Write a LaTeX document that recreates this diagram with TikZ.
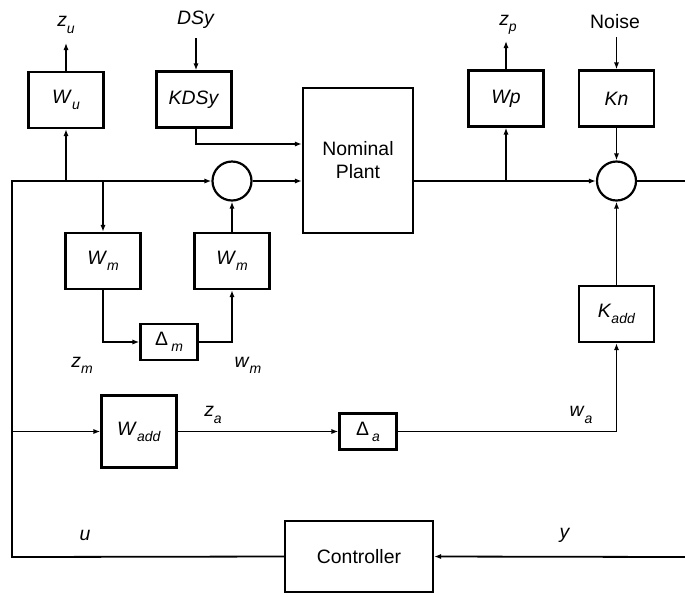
\documentclass[tikz,border=0pt]{standalone}
\usepackage{fontspec}
\setmainfont{Liberation Sans}
\usepackage{tikz}
\usetikzlibrary{positioning,arrows.meta,calc}

\newcommand{\vsub}[2]{\textit{#1}\raisebox{-0.6ex}{\fontsize{7}{8}\selectfont\textit{#2}}}

\begin{document}
\begin{tikzpicture}[
  x=0.5pt, y=-0.5pt,
  font=\fontsize{9.7}{11.5}\selectfont,
  blk/.style={draw, line width=1.1pt, minimum width=37.5pt, minimum height=28pt,
              align=center, inner sep=1pt},
  dblk/.style={draw, line width=1.1pt, minimum width=28.5pt, minimum height=18pt,
              inner sep=1pt},
  sumnode/.style={draw, circle, line width=1.1pt, minimum size=19.5pt, inner sep=0pt},
  arr/.style={-{Latex[length=3.5pt, width=2.6pt]}, line width=0.9pt},
  wire/.style={line width=0.9pt},
  sig/.style={inner sep=1pt}
]
\useasboundingbox (0,0) rectangle (685,596);

% ---- upper row ----
\node[blk] (wu)   at (66,100)    {\vsub{W}{u}};
\node[blk] (kdsy) at (194,99.5)  {\textit{KDSy}};
\node[draw, line width=1.1pt, minimum width=55pt, minimum height=72.5pt,
      align=center] (plant) at (358,160.5) {Nominal\\ Plant};
\node[blk] (wp)   at (506,98.5)  {\textit{Wp}};
\node[blk] (kn)   at (616.5,98.5){\textit{Kn}};

% ---- summing junctions ----
\node[sumnode] (sum1) at (232,181) {};
\node[sumnode] (sum2) at (616.5,181) {};

% ---- multiplicative uncertainty ----
\node[blk] (wm1) at (103,261)  {\vsub{W}{m}};
\node[blk] (wm2) at (232,261)  {\vsub{W}{m}};
\node[dblk] (dm) at (169,342)  {Δ\,\vsub{}{m}};

% ---- additive uncertainty ----
\node[blk] (kadd) at (616.5,314) {\vsub{K}{add}};
\node[blk, minimum height=36pt] (wadd) at (139,431.5) {\vsub{W}{add}};
\node[dblk] (da) at (368,431.5) {Δ\,\vsub{}{a}};

% ---- controller ----
\node[draw, line width=1.1pt, minimum width=74pt, minimum height=35.5pt] (ctrl)
  at (359,556.5) {Controller};

% ---- signal labels ----
\node[sig] (lzu)    at (66,25)   {\vsub{z}{u}};
\node[sig] (ldsy)   at (196,20)  {\textit{DSy}};
\node[sig] (lzp)    at (508,25)  {\vsub{z}{p}};
\node[sig] (lnoise) at (615,22)  {Noise};
\node[sig] (lzm)    at (82,365)  {\vsub{z}{m}};
\node[sig] (lwm)    at (248,365) {\vsub{w}{m}};
\node[sig] (lza)    at (213,415) {\vsub{z}{a}};
\node[sig] (lwa)    at (581,415) {\vsub{w}{a}};
\node[sig] (lu)     at (85,535)  {\textit{u}};
\node[sig] (ly)     at (565,535) {\textit{y}};

% ---- wire points ----
\coordinate (zuend)  at (66,43);
\coordinate (dsyin)  at (196,38);
\coordinate (zpend)  at (506,41);
\coordinate (noisein) at (616.5,37);
\coordinate (ju)     at (66,181);
\coordinate (jm)     at (103,181);
\coordinate (jp)     at (506,181);
\coordinate (ltop)   at (12,181);
\coordinate (lbot)   at (12,557);
\coordinate (ja)     at (12,431.5);
\coordinate (outr)   at (685,181);
\coordinate (yin)    at (685,557);

% ---- arrows ----
\draw[arr] (ctrl.west) -- (lbot) -- (ltop) -- (sum1.west);
\draw[arr] (ju) -- (wu.south);
\draw[arr] (wu.north) -- (zuend);
\draw[arr] (jm) -- (wm1.north);
\draw[arr] (wm1.south) |- (dm.west);
\draw[arr] (dm.east) -| (wm2.south);
\draw[arr] (wm2.north) -- (sum1.south);
\draw[arr] (sum1.east) -- (sum1 -| plant.west);
\draw[arr] (dsyin) -- (kdsy.north -| dsyin);
\draw[arr] (kdsy.south -| dsyin) |- ([yshift=8.25pt]plant.west);
\draw[arr] (plant.east |- sum2) -- (sum2.west);
\draw[arr] (jp) -- (wp.south);
\draw[arr] (wp.north) -- (zpend);
\draw[arr] (noisein) -- (kn.north);
\draw[arr] (kn.south) -- (sum2.north);
\draw[wire] (sum2.east) -- (outr);
\draw[arr] (kadd.north) -- (sum2.south);
\draw[arr] (ja) -- (wadd.west);
\draw[arr] (wadd.east) -- (da.west);
\draw[arr] (da.east) -| (kadd.south);
\draw[arr] (yin) -- (ctrl.east);
\end{tikzpicture}
\end{document}
